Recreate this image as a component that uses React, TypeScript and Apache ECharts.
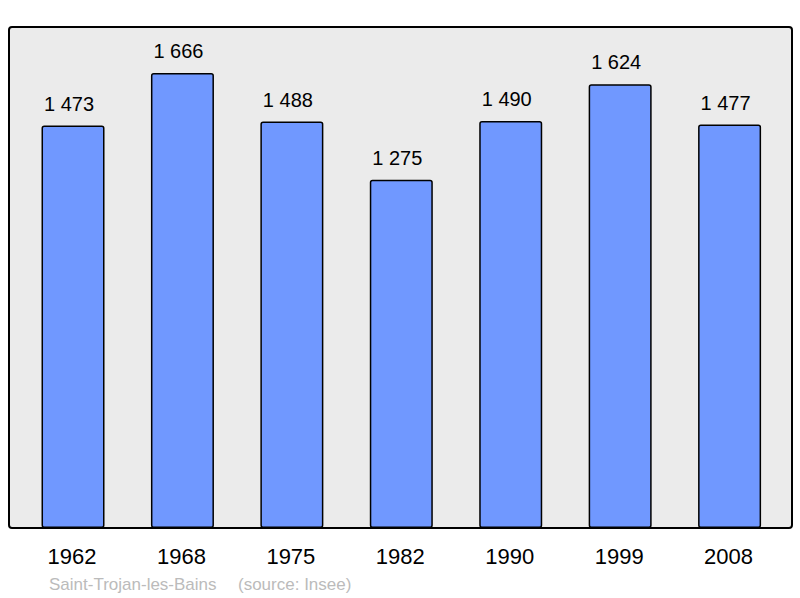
import React, { useEffect, useRef } from "react";
import * as echarts from "echarts";

const categories = ["1962", "1968", "1975", "1982", "1990", "1999", "2008"];
const populations = [1473, 1666, 1488, 1275, 1490, 1624, 1477];
const footerPlace = "Saint-Trojan-les-Bains";
const footerSource = "(source: Insee)";

const fmt = (v: number) => {
  const s = String(Math.round(v));
  return s.replace(/\B(?=(\d{3})+(?!\d))/g, " ");
};

export default function App() {
  const ref = useRef<HTMLDivElement>(null);
  useEffect(() => {
    if (!ref.current) return;
    const chart = echarts.init(ref.current, null, { renderer: "svg" });
    chart.setOption({
      animation: false,
      backgroundColor: "#ffffff",
      textStyle: { fontFamily: "Liberation Sans, Arial, sans-serif" },
      graphic: [
        {
          type: "rect",
          shape: { x: 9, y: 27, width: 783, height: 501, r: 3 },
          style: { fill: "#ebebeb", stroke: "#000000", lineWidth: 2 },
          z: -10,
        },
        {
          type: "text",
          x: 49,
          y: 584,
          style: {
            text: footerPlace,
            fill: "#bbbbbb",
            font: "17px 'Liberation Sans', Arial, sans-serif",
            textVerticalAlign: "middle",
          },
        },
        {
          type: "text",
          x: 238,
          y: 584,
          style: {
            text: footerSource,
            fill: "#bbbbbb",
            font: "17px 'Liberation Sans', Arial, sans-serif",
            textVerticalAlign: "middle",
          },
        },
      ],
      grid: { left: 18.3, right: 15.7, top: 27, bottom: 70, containLabel: false },
      xAxis: {
        type: "category",
        data: categories,
        axisLine: { show: false },
        axisTick: { show: false },
        axisLabel: {
          color: "#000000",
          fontSize: 22,
          margin: 17,
          padding: [0, 2, 0, 0],
          fontFamily: "Liberation Sans, Arial, sans-serif",
        },
      },
      yAxis: {
        type: "value",
        min: 0,
        max: 1834,
        show: false,
        splitLine: { show: false },
      },
      series: [
        {
          type: "bar",
          data: populations,
          barWidth: 63,
          itemStyle: {
            color: "#7098ff",
            borderColor: "#000000",
            borderWidth: 1.5,
            borderRadius: 2,
          },
          label: {
            show: true,
            position: "top",
            distance: 12,
            offset: [-4, 0],
            color: "#000000",
            fontSize: 20,
            fontFamily: "Liberation Sans, Arial, sans-serif",
            formatter: (p: any) => fmt(p.value),
          },
        },
      ],
    });
    return () => chart.dispose();
  }, []);
  return (
    <div
      ref={ref}
      style={{ position: "absolute", left: 0, top: 0, width: 800, height: 598 }}
    />
  );
}
